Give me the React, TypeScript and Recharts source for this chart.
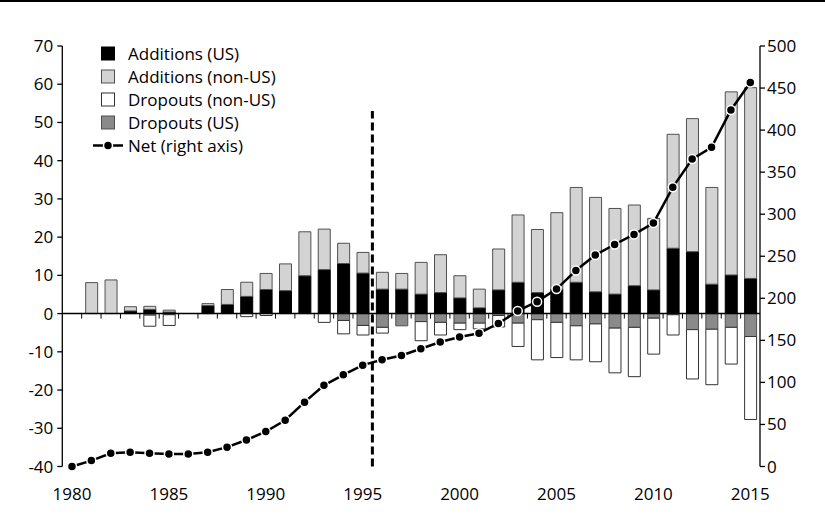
import React from 'react';
import { ComposedChart, Bar, Line, XAxis, YAxis, ReferenceLine, Legend } from 'recharts';

const years = [
  1980, 1981, 1982, 1983, 1984, 1985, 1986, 1987, 1988, 1989,
  1990, 1991, 1992, 1993, 1994, 1995, 1996, 1997, 1998, 1999,
  2000, 2001, 2002, 2003, 2004, 2005, 2006, 2007, 2008, 2009,
  2010, 2011, 2012, 2013, 2014, 2015,
];

const additionsUS = [
  0, 0, 0, 0.7, 1.1, 0.4, 0, 2.1, 2.4, 4.5,
  6.3, 6.0, 9.9, 11.5, 13.1, 10.6, 6.4, 6.4, 5.1, 5.5,
  4.1, 1.5, 6.2, 8.2, 5.5, 6.4, 8.2, 5.7, 5.1, 7.3,
  6.2, 17.1, 16.2, 7.7, 10.1, 9.2,
];

const additionsNonUS = [
  0, 8.1, 8.8, 1.1, 0.8, 0.5, 0, 0.5, 3.9, 3.7,
  4.2, 7.0, 11.5, 10.6, 5.3, 5.4, 4.4, 4.1, 8.3, 9.9,
  5.8, 4.9, 10.7, 17.6, 16.5, 20.0, 24.8, 24.7, 22.4, 21.1,
  18.7, 29.8, 34.8, 25.3, 47.9, 49.9,
];

const dropoutsUS = [
  0, 0, 0, 0, -0.4, -0.3, 0, 0, 0, 0,
  0, 0, 0, 0, -1.8, -3.1, -3.6, -3.2, -2.1, -2.3,
  -2.5, -2.5, -0.5, -2.5, -1.6, -2.3, -3.2, -2.7, -3.8, -3.6,
  -1.2, -0.3, -4.2, -4.1, -3.6, -6.0,
];

const dropoutsNonUS = [
  0, 0, 0, 0, -2.9, -2.8, 0, 0, 0, -0.8,
  -0.5, 0, 0, -2.3, -3.5, -2.5, -1.5, 0, -5.0, -3.3,
  -1.7, -1.5, -3.0, -6.1, -10.5, -9.2, -8.9, -9.9, -11.7, -12.9,
  -9.4, -5.3, -12.9, -14.5, -9.6, -21.7,
];

const netTotal = [
  0, 7, 15.7, 17, 15.7, 15, 15, 17, 23, 31.5,
  41.5, 55, 76.5, 96.5, 109, 120.5, 127, 132, 140, 148,
  154, 158.5, 170, 185, 196, 211, 233, 251.5, 264, 276,
  289.5, 332, 365.5, 379.5, 424, 456.5,
];

const xTicks = [1980, 1985, 1990, 1995, 2000, 2005, 2010, 2015];
const leftTicks = [-40, -30, -20, -10, 0, 10, 20, 30, 40, 50, 60, 70];
const rightTicks = [0, 50, 100, 150, 200, 250, 300, 350, 400, 450, 500];
const breakYear = 1995.5;
const legendOrder = ['Additions (US)', 'Additions (non-US)', 'Dropouts (non-US)', 'Dropouts (US)', 'Net (right axis)'];

const data = years.map((year, i) => ({
  year,
  addUS: additionsUS[i],
  addNonUS: additionsNonUS[i],
  dropUS: dropoutsUS[i],
  dropNonUS: dropoutsNonUS[i],
  net: netTotal[i],
}));

const boundaries = years.slice(1).map((y) => y - 0.5);

const FONT = "'Open Sans', sans-serif";

const LegendContent = (props: any) => {
  const payload = [...(props.payload || [])].sort(
    (a: any, b: any) => legendOrder.indexOf(a.value) - legendOrder.indexOf(b.value)
  );
  return (
    <div style={{ fontFamily: FONT, fontSize: 17, color: '#000' }}>
      {payload.map((entry: any) => {
        const p = entry.payload || {};
        const isLine = entry.value === 'Net (right axis)';
        return (
          <div key={entry.value} style={{ display: 'flex', alignItems: 'center', height: 23 }}>
            <svg width={32} height={23} style={{ display: 'block' }}>
              {isLine ? (
                <g>
                  <line x1={1} x2={31} y1={11.5} y2={11.5} stroke="#000" strokeWidth={2.5} />
                  <circle cx={16} cy={11.5} r={4.5} fill="#000" stroke="#fff" strokeWidth={1.5} />
                </g>
              ) : (
                <rect x={9.5} y={5} width={13} height={13} fill={p.fill} stroke={p.stroke} strokeWidth={1} />
              )}
            </svg>
            <span style={{ marginLeft: 4, lineHeight: '23px', whiteSpace: 'nowrap' }}>{entry.value}</span>
          </div>
        );
      })}
    </div>
  );
};

export default function App() {
  return (
    <div style={{ position: 'absolute', left: 0, top: 0, width: 825, height: 515, background: '#fff', fontFamily: FONT }}>
      <div style={{ position: 'absolute', left: 0, top: 0, width: 825, height: 2, background: '#000' }} />
      <ComposedChart
        width={825}
        height={515}
        data={data}
        stackOffset="sign"
        margin={{ top: 46, right: 10, bottom: 8.5, left: 12.3 }}
      >
        <XAxis
          dataKey="year"
          type="number"
          domain={[1979.5, 2015.5]}
          ticks={xTicks}
          interval={0}
          tickLine={false}
          axisLine={false}
          tickSize={0}
          tickMargin={21}
          height={40}
          tick={{ fill: '#000', fontSize: 17, fontFamily: FONT }}
        />
        <YAxis
          yAxisId="left"
          domain={[-40, 70]}
          ticks={leftTicks}
          interval={0}
          width={50}
          tickSize={5}
          tickMargin={4}
          axisLine={{ stroke: '#000', strokeWidth: 1.3 }}
          tickLine={{ stroke: '#000', strokeWidth: 1.3 }}
          tick={{ fill: '#000', fontSize: 17, fontFamily: FONT }}
        />
        <YAxis
          yAxisId="right"
          orientation="right"
          domain={[0, 500]}
          ticks={rightTicks}
          interval={0}
          width={55}
          tickSize={5}
          tickMargin={2}
          axisLine={{ stroke: '#000', strokeWidth: 1.3 }}
          tickLine={{ stroke: '#000', strokeWidth: 1.3 }}
          tick={{ fill: '#000', fontSize: 17, fontFamily: FONT }}
        />
        <Legend
          layout="vertical"
          align="center"
          verticalAlign="middle"
          wrapperStyle={{ left: 92, top: 41.5, width: 230 }}
          content={<LegendContent />}
        />
        <Bar yAxisId="left" dataKey="addUS" name="Additions (US)" stackId="s" barSize={12}
          fill="#000000" stroke="#000000" strokeWidth={1} isAnimationActive={false} />
        <Bar yAxisId="left" dataKey="addNonUS" name="Additions (non-US)" stackId="s" barSize={12}
          fill="#d3d3d3" stroke="#505050" strokeWidth={1} isAnimationActive={false} />
        <Bar yAxisId="left" dataKey="dropUS" name="Dropouts (US)" stackId="s" barSize={12}
          fill="#8a8a8a" stroke="#505050" strokeWidth={1} isAnimationActive={false} />
        <Bar yAxisId="left" dataKey="dropNonUS" name="Dropouts (non-US)" stackId="s" barSize={12}
          fill="#ffffff" stroke="#333333" strokeWidth={1} isAnimationActive={false} />
        <ReferenceLine yAxisId="left" y={0} stroke="#000" strokeWidth={1.5} />
        {boundaries.map((b) => (
          <ReferenceLine
            key={b}
            yAxisId="left"
            segment={[{ x: b, y: 0 }, { x: b, y: -1.3 }]}
            stroke="#000"
            strokeWidth={1}
          />
        ))}
        <ReferenceLine
          yAxisId="left"
          segment={[{ x: breakYear, y: -40 }, { x: breakYear, y: 53 }]}
          stroke="#000"
          strokeWidth={3}
          strokeDasharray="8 4"
        />
        <Line
          yAxisId="right"
          dataKey="net"
          name="Net (right axis)"
          stroke="#000"
          strokeWidth={2.5}
          dot={{ r: 4.5, fill: '#000', stroke: '#fff', strokeWidth: 1.5 }}
          isAnimationActive={false}
        />
      </ComposedChart>
    </div>
  );
}
